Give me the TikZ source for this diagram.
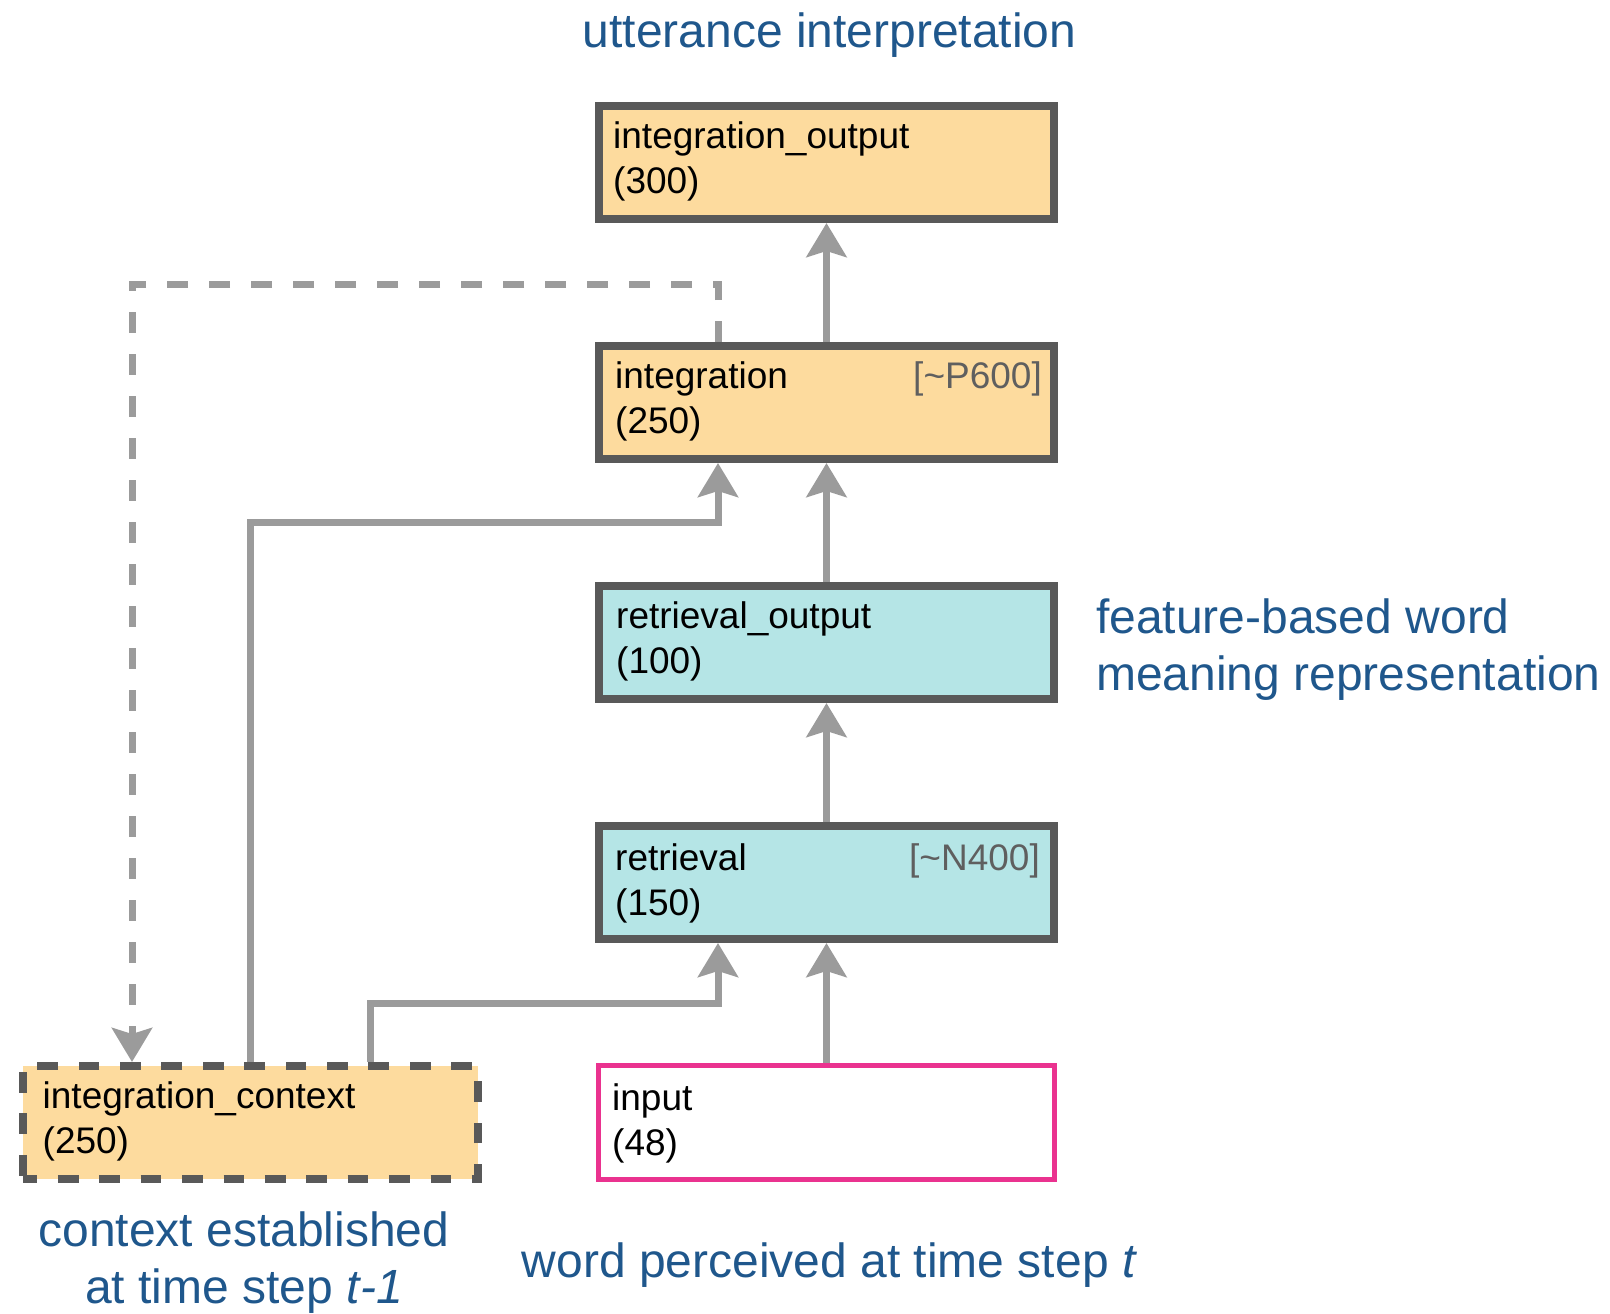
\documentclass[tikz,border=0pt]{standalone}
\usepackage{fontspec}
\setmainfont{Liberation Sans}
\usetikzlibrary{arrows.meta}

\definecolor{boxline}{RGB}{89,89,89}
\definecolor{connector}{RGB}{155,155,155}
\definecolor{orangefill}{RGB}{253,219,158}
\definecolor{cyanfill}{RGB}{181,229,230}
\definecolor{inputline}{RGB}{234,50,143}
\definecolor{labelblue}{RGB}{31,87,140}
\definecolor{taggray}{RGB}{95,95,95}

\tikzset{
  layer/.style={rectangle, draw=boxline, line width=8pt, inner sep=0pt,
    outer sep=4pt, minimum width=455pt, minimum height=113pt},
  orangebox/.style={layer, fill=orangefill},
  cyanbox/.style={layer, fill=cyanfill},
  inputbox/.style={layer, draw=inputline, line width=5pt, outer sep=2.5pt,
    minimum width=456pt, minimum height=114pt, fill=white},
  contextbox/.style={layer, fill=orangefill, dash pattern=on 20.7pt off 20.7pt, dash phase=6pt},
  boxtext/.style={anchor=base west, align=left, inner sep=0pt,
    font=\fontsize{37}{45}\selectfont},
  tagtext/.style={anchor=base east, inner sep=0pt, text=taggray,
    font=\fontsize{37}{45}\selectfont},
  caption/.style={inner sep=0pt, text=labelblue, font=\fontsize{48}{57}\selectfont},
  arr/.style={draw=connector, line width=7pt,
    -{Stealth[length=34pt, width=40pt, inset=6pt]}},
  feedback/.style={arr, dash pattern=on 21pt off 21pt},
}

\begin{document}
\begin{tikzpicture}[x=1pt, y=-1pt]
  \useasboundingbox (0,0) rectangle (1610,1314);

  % layers of the network
  \node[orangebox]  (io)  at (826.5,162.5)  {};
  \node[orangebox]  (int) at (826.5,402.5)  {};
  \node[cyanbox]    (ro)  at (826.5,642.5)  {};
  \node[cyanbox]    (ret) at (826.5,882.5)  {};
  \node[inputbox]   (inp) at (826.5,1122.5) {};
  \node[contextbox] (ctx) at (250,1122.5)   {};

  % layer names and sizes (anchored at the baseline of the second line)
  \node[boxtext] (io-t)  at ([shift={(18,91)}]io.north west)  {integration\_output\\(300)};
  \node[boxtext] (int-t) at ([shift={(20,91)}]int.north west) {integration\\(250)};
  \node[tagtext] (int-g) at ([shift={(-16,46)}]int.north east) {[\textasciitilde P600]};
  \node[boxtext] (ro-t)  at ([shift={(21,91)}]ro.north west)  {retrieval\_output\\(100)};
  \node[boxtext] (ret-t) at ([shift={(20,93)}]ret.north west) {retrieval\\(150)};
  \node[tagtext] (ret-g) at ([shift={(-18,48)}]ret.north east) {[\textasciitilde N400]};
  \node[boxtext] (inp-t) at ([shift={(16,92)}]inp.north west) {input\\(48)};
  \node[boxtext] (ctx-t) at ([shift={(24,91)}]ctx.north west) {integration\_context\\(250)};

  % captions
  \node[caption, anchor=base] (cap-top) at (829.5,48) {utterance interpretation};
  \node[caption, anchor=base west, align=left] (cap-feat) at (1096,690)
    {feature-based word\\meaning representation};
  \node[caption, anchor=base, align=center] (cap-ctx) at (244,1303)
    {context established\\at time step \textit{t-1}};
  \node[caption, anchor=base] (cap-word) at (829.5,1277)
    {word perceived at time step \textit{t}};

  % routing points
  \coordinate (kneeRet) at (718,1003);
  \coordinate (kneeInt) at (718,522);
  \coordinate (kneeLoop) at (132,284);

  % feed-forward connections
  \draw[arr] (inp.north) -- (ret.south);
  \draw[arr] (ret.north) -- (ro.south);
  \draw[arr] (ro.north) -- (int.south);
  \draw[arr] (int.north) -- (io.south);
  \draw[arr] ([xshift=120pt]ctx.north) |- (kneeRet) -- (ret.south -| kneeRet);
  \draw[arr] (ctx.north) |- (kneeInt) -- (int.south -| kneeInt);

  % copy of the integration layer kept for the next time step
  \draw[feedback] (int.north -| kneeInt) |- (kneeLoop) -- (ctx.north -| kneeLoop);
\end{tikzpicture}
\end{document}
